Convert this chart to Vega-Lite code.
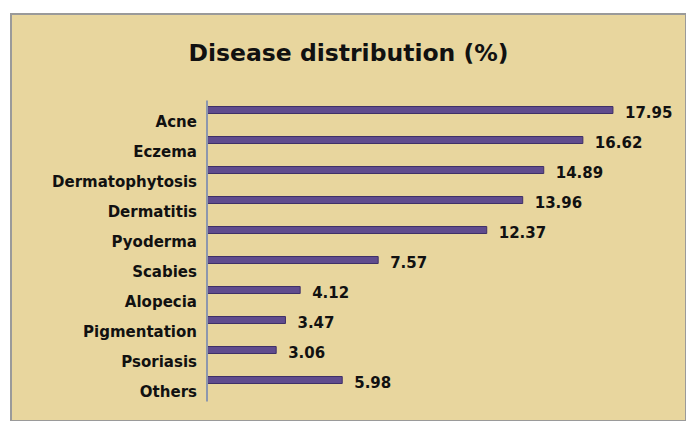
{
  "$schema": "https://vega.github.io/schema/vega-lite/v6.json",
  "width": 675,
  "height": 407,
  "autosize": {"type": "none"},
  "padding": {"left": 11, "top": 14, "right": 0, "bottom": 0},
  "background": "#ffffff",
  "config": {
    "view": {"fill": "#E8D69E", "stroke": "#9a9a9a", "strokeWidth": 2},
    "font": "DejaVu Sans"
  },
  "title": {
    "text": "Disease distribution (%)",
    "anchor": "middle",
    "orient": "top",
    "offset": -70,
    "fontSize": 23.5,
    "fontWeight": "bold",
    "font": "DejaVu Sans",
    "color": "#111111",
    "baseline": "alphabetic"
  },
  "data": {
    "values": [
      {"disease": "Acne", "pct": 17.95},
      {"disease": "Eczema", "pct": 16.62},
      {"disease": "Dermatophytosis", "pct": 14.89},
      {"disease": "Dermatitis", "pct": 13.96},
      {"disease": "Pyoderma", "pct": 12.37},
      {"disease": "Scabies", "pct": 7.57},
      {"disease": "Alopecia", "pct": 4.12},
      {"disease": "Pigmentation", "pct": 3.47},
      {"disease": "Psoriasis", "pct": 3.06},
      {"disease": "Others", "pct": 5.98}
    ]
  },
  "encoding": {
    "y": {
      "field": "disease",
      "type": "nominal",
      "sort": null,
      "axis": null,
      "scale": {"range": [87, 387], "paddingInner": 0, "paddingOuter": 0}
    }
  },
  "layer": [
    {
      "mark": {"type": "bar", "size": 7, "yOffset": -6, "color": "#604C8D", "stroke": "#3F3068", "strokeWidth": 1},
      "encoding": {
        "x": {
          "field": "pct",
          "type": "quantitative",
          "axis": null,
          "scale": {"domain": [-8.665, 21.18], "nice": false, "zero": false}
        }
      }
    },
    {
      "mark": {"type": "tick", "orient": "vertical", "size": 31, "thickness": 2, "color": "#8D97AE", "opacity": 1},
      "encoding": {
        "x": {"datum": 0, "type": "quantitative"}
      }
    },
    {
      "mark": {"type": "text", "align": "left", "baseline": "middle", "dx": 12, "dy": -3, "fontSize": 15, "fontWeight": "bold", "color": "#111111"},
      "encoding": {
        "x": {"field": "pct", "type": "quantitative"},
        "text": {"field": "pct", "type": "quantitative", "format": ".2f"}
      }
    },
    {
      "mark": {"type": "text", "align": "right", "baseline": "middle", "dx": -10, "dy": 6, "fontSize": 15, "fontWeight": "bold", "color": "#111111"},
      "encoding": {
        "x": {"datum": 0, "type": "quantitative"},
        "text": {"field": "disease", "type": "nominal"}
      }
    }
  ]
}
